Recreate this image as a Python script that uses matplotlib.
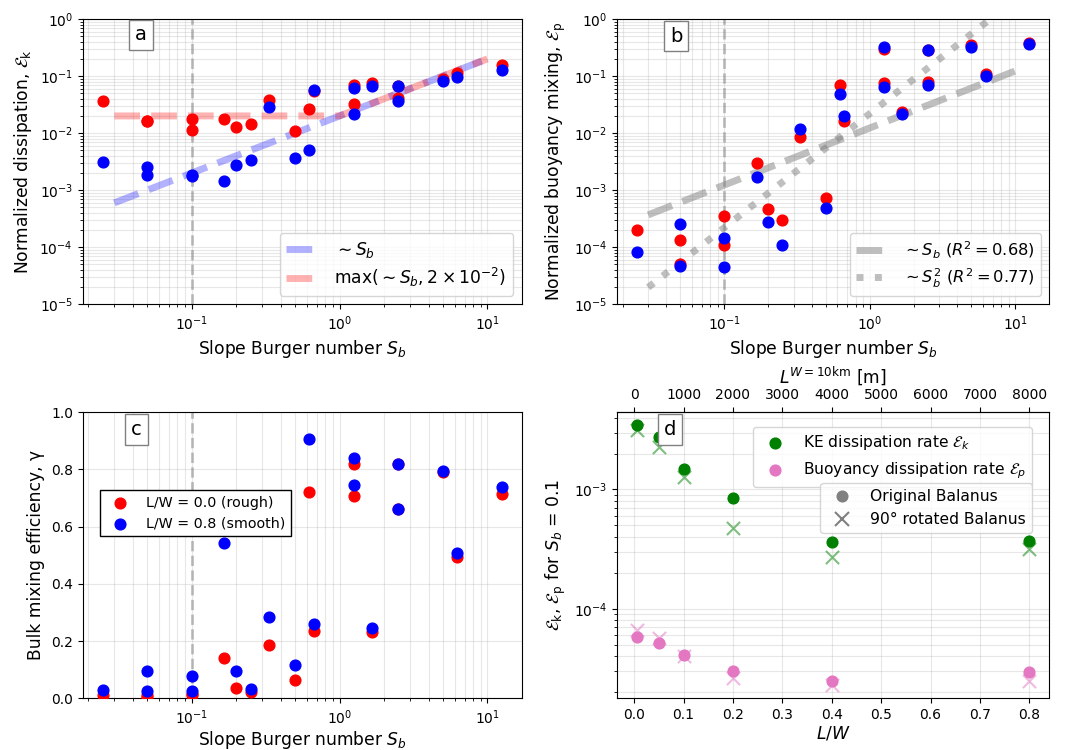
import numpy as np
import matplotlib
matplotlib.use("Agg")
import matplotlib.pyplot as plt
from matplotlib.lines import Line2D

# ---------------- data ----------------
Sb = [0.025, 0.05, 0.05, 0.1, 0.1, 0.1667, 0.2, 0.25, 0.3333, 0.5, 0.625, 0.6667,
      1.25, 1.25, 1.667, 2.5, 2.5, 5.0, 6.25, 12.5]

eps_k_rough = [0.037, 0.0163, 0.016, 0.0179, 0.0113, 0.018, 0.013, 0.0143, 0.0378, 0.011,
               0.0268, 0.054, 0.0689, 0.032, 0.0766, 0.066, 0.0418, 0.09, 0.112, 0.154]
eps_k_smooth = [0.0031, 0.00258, 0.00182, 0.00185, 0.0018, 0.00145, 0.0028, 0.00343, 0.0291, 0.00366,
                0.00513, 0.057, 0.0609, 0.0219, 0.067, 0.067, 0.036, 0.082, 0.095, 0.128]

eps_p_rough = [2.0e-4, 1.34e-4, 5.0e-5, 3.53e-4, 1.08e-4, 2.96e-3, 4.69e-4, 2.97e-4, 8.4e-3, 7.3e-4,
               0.0707, 0.0165, 0.30, 0.0766, 0.0235, 0.29, 0.078, 0.345, 0.109, 0.38]
eps_p_smooth = [8.1e-5, 2.56e-4, 4.76e-5, 1.47e-4, 4.57e-5, 1.73e-3, 2.81e-4, 1.08e-4, 0.0117, 4.8e-4,
                0.0485, 0.0197, 0.327, 0.0643, 0.0213, 0.29, 0.0707, 0.323, 0.099, 0.36]

gamma_rough = [0.012, 0.013, 0.004, 0.015, 0.01, 0.141, 0.036, 0.021, 0.187, 0.063,
               0.719, 0.234, 0.817, 0.708, 0.233, 0.818, 0.661, 0.79, 0.495, 0.712]
gamma_smooth = [0.028, 0.095, 0.027, 0.077, 0.027, 0.543, 0.094, 0.033, 0.285, 0.118,
                0.905, 0.26, 0.838, 0.745, 0.244, 0.818, 0.661, 0.795, 0.509, 0.738]

# fitted power laws
fit_range = [0.03, 10.0]
coef_k = 0.02          # eps_k ~ coef * Sb
floor_k = 2e-2
coef_p1 = 0.0123       # eps_p ~ coef * Sb
coef_p2 = 0.022        # eps_p ~ coef * Sb^2

# panel d
LW = [0.005, 0.05, 0.1, 0.2, 0.4, 0.8]
ek_orig = [3.47e-3, 2.77e-3, 1.49e-3, 8.47e-4, 3.65e-4, 3.67e-4]
ek_rot = [3.15e-3, 2.29e-3, 1.27e-3, 4.78e-4, 2.69e-4, 3.16e-4]
ep_orig = [5.8e-5, 5.13e-5, 4.07e-5, 2.99e-5, 2.5e-5, 2.97e-5]
ep_rot = [6.64e-5, 5.65e-5, 4.0e-5, 2.62e-5, 2.28e-5, 2.5e-5]
W_m = 10000.0
top_ticks = [0, 1000, 2000, 3000, 4000, 5000, 6000, 7000, 8000]

# ---------------- figure ----------------
fig = plt.figure(figsize=(10.88, 7.5), dpi=100)
W, H = 1088, 750
def pos(l, r, t, b):
    return [l / W, 1 - b / H, (r - l) / W, (b - t) / H]

axa = fig.add_axes(pos(82.7, 521.7, 19, 304.3))
axb = fig.add_axes(pos(617, 1049, 19, 304.3))
axc = fig.add_axes(pos(82.7, 521.7, 412, 698.3))
axd = fig.add_axes(pos(617, 1049, 412, 698.3))

LFS = 12.3
S = 60

def panel_label(ax, s, x, y):
    ax.text(x, y, s, transform=ax.transAxes, fontsize=14, ha='center', va='center',
            bbox=dict(facecolor='white', edgecolor='gray', boxstyle='square,pad=0.3'), zorder=10)

xf = np.logspace(np.log10(fit_range[0]), np.log10(fit_range[1]), 400)

# panel a
ax = axa
ax.scatter(Sb, eps_k_rough, s=S, color='red', zorder=3)
ax.scatter(Sb, eps_k_smooth, s=S, color='blue', zorder=3)
ax.plot(xf, coef_k * xf, ls='--', color='blue', alpha=0.3, lw=5, label=r'$\sim S_b$')
ax.plot(xf, np.maximum(coef_k * xf, floor_k), ls='--', color='red', alpha=0.3, lw=5,
        label=r'max($\sim S_b, 2\times10^{-2}$)')
ax.axvline(0.1, color='gray', ls='--', alpha=0.5, lw=2)
ax.set_xscale('log'); ax.set_yscale('log')
ax.set_ylim(1e-5, 1)
ax.grid(True, which='both', alpha=0.3)
ax.set_xlabel(r'Slope Burger number $S_b$', fontsize=LFS)
ax.set_ylabel(r'Normalized dissipation, $\mathcal{E}_\mathrm{k}$', fontsize=LFS)
ax.legend(loc='lower right', fontsize=12.3, labelspacing=0.35)
panel_label(ax, 'a', 0.133, 0.944)

# panel b
ax = axb
ax.scatter(Sb, eps_p_rough, s=S, color='red', zorder=3)
ax.scatter(Sb, eps_p_smooth, s=S, color='blue', zorder=3)
ax.plot(xf, coef_p1 * xf, ls='--', color='gray', alpha=0.5, lw=5, label=r'$\sim S_b\ (R^2=0.68)$')
ax.plot(xf, coef_p2 * xf ** 2, ls=':', color='gray', alpha=0.5, lw=5, label=r'$\sim S_b^2\ (R^2=0.77)$')
ax.axvline(0.1, color='gray', ls='--', alpha=0.5, lw=2)
ax.set_xscale('log'); ax.set_yscale('log')
ax.set_ylim(1e-5, 1)
ax.grid(True, which='both', alpha=0.3)
ax.set_xlabel(r'Slope Burger number $S_b$', fontsize=LFS)
ax.set_ylabel(r'Normalized buoyancy mixing, $\mathcal{E}_\mathrm{p}$', fontsize=LFS)
ax.legend(loc='lower right', fontsize=11.7, labelspacing=0.35)
panel_label(ax, 'b', 0.137, 0.94)

# panel c
ax = axc
ax.scatter(Sb, gamma_rough, s=S, color='red', zorder=3, label='L/W = 0.0 (rough)')
ax.scatter(Sb, gamma_smooth, s=S, color='blue', zorder=3, label='L/W = 0.8 (smooth)')
ax.axvline(0.1, color='gray', ls='--', alpha=0.5, lw=2)
ax.set_xscale('log')
ax.set_ylim(0, 1)
ax.grid(True, which='both', alpha=0.3)
ax.set_xlabel(r'Slope Burger number $S_b$', fontsize=LFS, labelpad=1.5)
ax.set_ylabel('Bulk mixing efficiency, γ', fontsize=LFS)
leg = ax.legend(loc='upper left', bbox_to_anchor=(0.039, 0.728), borderaxespad=0,
                fontsize=10.3, fancybox=False, edgecolor='black', framealpha=1)
panel_label(ax, 'c', 0.123, 0.94)
ax.set_xlim(axa.get_xlim())

# panel d
ax = axd
ax.scatter(LW, ek_rot, marker='x', s=90, color='green', alpha=0.5, lw=1.5, zorder=2)
ax.scatter(LW, ep_rot, marker='x', s=90, color='tab:pink', alpha=0.5, lw=1.5, zorder=2)
h1 = ax.scatter(LW, ek_orig, s=S, color='green', zorder=3, label=r'KE dissipation rate $\mathcal{E}_k$')
h2 = ax.scatter(LW, ep_orig, s=S, color='tab:pink', zorder=3, label=r'Buoyancy dissipation rate $\mathcal{E}_p$')
ax.set_yscale('log')
ax.grid(True, which='both', alpha=0.3)
ax.set_xlabel(r'$L/W$', fontsize=LFS, labelpad=1.5)
ax.set_ylabel(r'$\mathcal{E}_\mathrm{k}$, $\mathcal{E}_\mathrm{p}$ for $S_b$ = 0.1', fontsize=LFS)
leg1 = ax.legend(handles=[h1, h2], loc='upper right', bbox_to_anchor=(0.961, 0.947),
                 borderaxespad=0, fontsize=11.2)
ax.add_artist(leg1)
hh = [Line2D([], [], marker='o', ls='none', color='gray', markersize=7.7),
      Line2D([], [], marker='x', ls='none', color='gray', markersize=9.5, mew=1.5)]
ax.legend(handles=hh, labels=['Original Balanus', '90° rotated Balanus'], loc='upper right',
          bbox_to_anchor=(0.961, 0.752), borderaxespad=0, fontsize=11.2)
sec = ax.secondary_xaxis('top', functions=(lambda x: x * W_m, lambda x: x / W_m))
sec.set_xticks(top_ticks)
sec.set_xlabel(r'$L^{W=10\mathrm{km}}$ [m]', fontsize=LFS)
panel_label(ax, 'd', 0.123, 0.94)

fig.savefig('out.png', dpi=100)
